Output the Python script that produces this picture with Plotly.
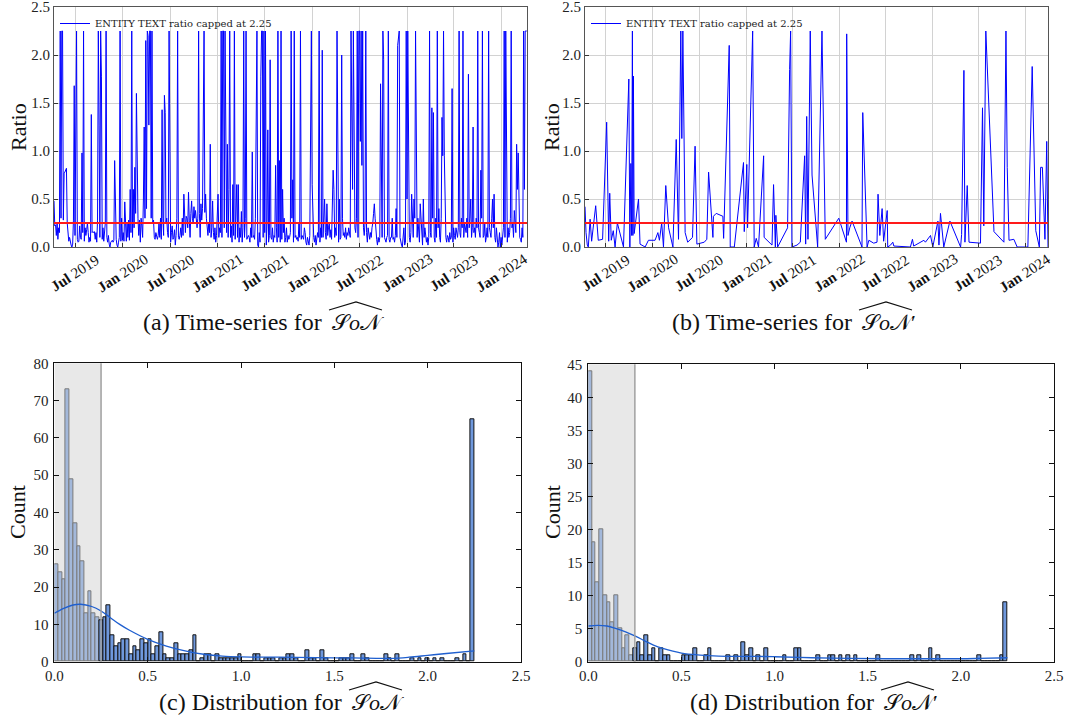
import pandas as pd
import plotly.graph_objects as go

# ---------------- data ----------------
TS_A_START = "2019-04-10"
TS_A_STEP_DAYS = 3
ts_a_values = [
    0.48, 0.22, 0.23, 0.12, 0.25, 0.08, 0.2, 0.15, 2.25, 0.3, 2.25, 2.25, 0.28, 0.77, 0.78, 0.8, 0.82, 0.25, 0.18, 0.06,
    0.1, 0.05, 0.02, 0.0, 0.03, 0.28, 1.68, 0.12, 1.42, 2.25, 0.08, 0.05, 0.06, 0.22, 0.1, 0.08, 0.98, 0.15, 2.25, 0.06,
    0.2, 0.12, 0.18, 0.25, 0.15, 0.05, 0.1, 0.06, 1.38, 0.15, 0.16, 0.15, 0.16, 0.08, 0.15, 0.05, 0.28, 2.25, 1.27, 0.1,
    2.25, 1.78, 0.08, 0.2, 0.06, 0.15, 0.25, 2.25, 0.1, 0.05, 0.12, 0.03, 0.0, 0.05, 0.06, 0.07, 0.05, 0.07, 0.9, 0.2,
    0.08, 0.02, 0.0, 0.05, 0.1, 2.25, 0.06, 0.3, 0.07, 0.15, 0.06, 0.47, 0.12, 0.06, 0.25, 0.1, 0.28, 0.07, 0.6, 0.15,
    2.25, 0.1, 0.6, 0.2, 0.83, 0.35, 1.6, 0.4, 0.3, 0.12, 0.28, 0.05, 0.3, 0.22, 0.1, 0.5, 1.25, 0.3, 2.15, 0.4,
    2.25, 2.2, 1.27, 2.25, 2.25, 0.3, 2.25, 0.25, 0.28, 0.1, 0.08, 0.15, 0.1, 0.08, 0.12, 0.25, 0.1, 0.3, 0.08, 1.43,
    0.3, 0.12, 1.58, 1.4, 0.25, 0.3, 0.15, 0.1, 2.25, 0.2, 0.05, 0.15, 0.22, 0.08, 0.1, 0.18, 0.02, 0.12, 0.3, 2.25,
    0.1, 0.08, 0.12, 0.2, 0.1, 0.3, 0.12, 0.55, 0.2, 0.15, 0.32, 0.3, 0.2, 0.57, 0.28, 0.1, 0.35, 0.48, 0.3, 0.25,
    0.42, 0.3, 0.38, 0.28, 0.2, 0.3, 2.25, 0.35, 0.1, 0.45, 0.28, 0.4, 1.67, 2.25, 0.36, 0.55, 0.3, 0.15, 0.12, 0.25,
    0.15, 1.07, 0.1, 0.2, 0.48, 0.15, 0.08, 0.2, 0.05, 0.12, 0.3, 0.55, 0.1, 0.2, 0.15, 2.25, 0.1, 2.25, 2.25, 0.2,
    2.25, 0.3, 0.15, 1.07, 0.1, 0.6, 2.25, 0.1, 0.22, 0.05, 0.65, 0.12, 2.25, 0.08, 0.3, 0.65, 0.1, 0.65, 0.05, 0.2,
    0.1, 0.37, 0.05, 0.2, 2.25, 0.1, 0.3, 2.25, 0.08, 0.1, 0.12, 0.1, 0.05, 0.2, 0.1, 0.99, 0.1, 0.12, 0.08, 0.3,
    1.25, 2.25, 0.02, 0.0, 0.15, 0.05, 1.78, 2.25, 2.25, 0.1, 2.25, 0.15, 2.25, 0.02, 0.25, 1.22, 0.05, 0.12, 1.95, 0.1,
    0.08, 0.2, 0.05, 0.12, 0.1, 0.85, 0.2, 0.05, 2.25, 0.1, 0.9, 0.05, 2.25, 0.08, 0.6, 0.15, 0.3, 0.05, 0.1, 0.2,
    0.05, 0.12, 0.08, 0.1, 0.15, 2.25, 0.3, 0.7, 0.05, 2.25, 0.1, 0.12, 0.08, 0.1, 0.06, 0.25, 0.1, 2.25, 0.08, 0.12,
    0.1, 0.08, 0.2, 0.15, 0.05, 0.02, 0.1, 0.04, 0.02, 0.12, 0.9, 2.25, 0.65, 0.2, 0.1, 0.05, 0.12, 0.02, 0.08, 0.15,
    0.1, 2.25, 0.05, 0.2, 0.1, 2.05, 0.1, 0.3, 0.5, 0.15, 0.08, 0.45, 0.12, 0.2, 0.25, 0.1, 0.18, 0.08, 0.6, 0.8,
    0.6, 0.1, 0.2, 0.12, 2.25, 0.2, 0.05, 0.5, 0.08, 0.1, 2.0, 0.3, 0.12, 0.15, 0.1, 0.2, 0.08, 0.15, 0.12, 0.2,
    0.15, 0.1, 2.25, 1.15, 0.6, 2.25, 1.1, 0.2, 0.15, 0.3, 2.25, 0.1, 2.25, 2.25, 1.1, 2.25, 0.85, 2.25, 0.2, 0.12,
    0.25, 2.25, 0.15, 0.05, 0.2, 0.1, 0.08, 0.15, 0.1, 0.2, 0.25, 0.35, 0.45, 0.3, 0.12, 0.08, 0.02, 0.1, 0.05, 0.1,
    1.7, 0.3, 0.1, 2.25, 1.95, 0.1, 0.08, 0.05, 0.1, 0.12, 2.25, 0.08, 0.05, 0.1, 0.1, 0.3, 0.08, 0.1, 0.05, 0.12,
    0.4, 0.1, 2.1, 2.2, 2.25, 0.1, 0.05, 0.02, 0.0, 0.1, 0.2, 0.02, 0.05, 2.25, 0.5, 2.25, 0.3, 0.1, 0.05, 0.15,
    0.55, 0.2, 0.1, 0.5, 0.3, 2.25, 0.55, 0.1, 0.3, 0.1, 0.05, 0.45, 0.3, 0.05, 0.02, 0.5, 0.1, 0.2, 0.08, 0.05,
    0.1, 0.02, 0.1, 2.25, 0.15, 0.1, 1.45, 0.3, 1.4, 0.1, 0.05, 0.3, 0.1, 2.25, 0.2, 0.4, 0.1, 0.05, 0.3, 1.35,
    0.95, 2.25, 0.95, 0.2, 0.1, 0.05, 0.12, 0.1, 0.05, 0.15, 0.08, 0.1, 1.65, 0.05, 0.2, 0.12, 0.08, 0.2, 0.15, 0.1,
    0.2, 2.25, 0.15, 0.1, 0.3, 0.2, 2.25, 0.1, 0.25, 0.2, 0.15, 0.3, 0.1, 1.8, 0.2, 0.3, 0.5, 0.1, 0.2, 1.25,
    0.15, 0.2, 0.1, 0.3, 0.2, 2.25, 0.2, 0.15, 0.1, 0.8, 0.3, 2.25, 0.1, 0.12, 0.25, 0.05, 0.1, 0.2, 0.1, 2.25,
    0.2, 0.15, 0.1, 0.3, 0.5, 0.2, 0.55, 0.1, 0.05, 0.2, 0.1, 0.0, 0.05, 0.15, 0.0, 0.1, 0.02, 0.1, 0.2, 2.25,
    0.1, 2.25, 0.3, 0.05, 0.2, 0.1, 0.15, 0.3, 2.25, 0.2, 0.25, 0.1, 0.38, 0.2, 0.15, 1.07, 0.6, 0.98, 0.5, 0.1,
    0.08, 0.05, 0.2, 0.1, 2.25, 0.6, 2.25, 2.25, 2.25,
]

TS_B_START = "2019-04-10"
ts_b_days = [
    0, 4, 9, 13, 20, 26, 42, 52, 69, 85, 93, 97, 103, 111, 118, 127, 151, 172, 176, 180,
    183, 186, 188, 190, 193, 210, 216, 236, 249, 275, 286, 292, 301, 308, 317, 328, 345, 358, 367, 376,
    380, 384, 393, 403, 422, 432, 439, 468, 478, 485, 502, 504, 515, 541, 544, 566, 570, 586, 622, 625,
    635, 638, 658, 664, 672, 681, 701, 703, 734, 740, 747, 749, 756, 795, 803, 807, 812, 832, 845, 862,
    866, 870, 875, 884, 891, 913, 930, 943, 996, 1026, 1027, 1032, 1039, 1048, 1087, 1090, 1107, 1114, 1133, 1146,
    1150, 1157, 1166, 1172, 1186, 1188, 1199, 1208, 1212, 1277, 1285, 1290, 1330, 1336, 1356, 1365, 1385, 1389, 1395, 1408,
    1432, 1474, 1478, 1487, 1491, 1500, 1507, 1552, 1560, 1565, 1573, 1605, 1644, 1652, 1657, 1664, 1683, 1696, 1738, 1755,
    1769, 1783, 1788, 1795, 1805, 1812, 1817,
]
ts_b_values = [
    0.42, 0.15, 0.02, 0.0, 0.29, 0.06, 0.43, 0.07, 0.08, 1.3, 0.06, 0.56, 0.07, 0.17, 0.0, 0.25, 0.0, 1.75, 0.0, 0.87,
    0.12, 2.25, 0.12, 1.78, 0.14, 0.5, 0.03, 0.0, 0.07, 0.07, 0.15, 0.07, 0.25, 0.0, 0.64, 0.2, 0.0, 1.12, 0.08, 2.25,
    1.13, 2.25, 0.15, 0.05, 0.1, 1.05, 0.03, 0.05, 0.08, 0.78, 0.1, 0.32, 0.35, 0.32, 0.09, 2.1, 0.0, 0.0, 0.88, 0.16,
    0.86, 0.2, 2.25, 0.0, 0.09, 0.0, 0.95, 0.1, 0.02, 0.65, 0.0, 0.33, 0.0, 0.2, 1.85, 2.25, 0.0, 0.02, 0.05, 0.95,
    0.03, 1.36, 0.08, 2.25, 0.75, 0.0, 2.25, 0.08, 0.3, 0.05, 2.22, 0.12, 0.2, 0.27, 0.0, 1.4, 0.0, 0.07, 0.04, 0.05,
    0.55, 0.12, 0.4, 0.06, 0.38, 0.0, 0.02, 0.05, 0.01, 0.0, 0.08, 0.01, 0.07, 0.05, 0.12, 0.0, 0.27, 0.02, 0.35, 0.0,
    0.27, 0.0, 0.13, 1.84, 0.05, 0.64, 0.05, 0.04, 1.45, 0.22, 2.25, 0.16, 0.05, 2.25, 0.83, 0.07, 0.08, 0.0, 0.0, 1.88,
    0.17, 0.0, 0.83, 0.83, 0.08, 1.1, 0.0,
]

THRESHOLD = 0.25
CAP = 2.25
HIST_BINS = 112

hist_c_counts = [
    26, 24, 22, 73, 49, 37, 31, 27, 13, 19, 13, 12, 11, 12, 15, 7, 4, 5, 6, 6,
    2, 4, 3, 6, 5, 6, 2, 4, 8, 2, 1, 1, 5, 2, 2, 2, 3, 7, 0, 1,
    2, 2, 0, 2, 1, 1, 1, 1, 1, 2, 0, 0, 0, 2, 2, 0, 1, 1, 1, 0,
    1, 1, 2, 2, 1, 0, 0, 3, 1, 1, 0, 3, 1, 0, 0, 0, 1, 1, 1, 2,
    0, 0, 2, 1, 0, 0, 0, 0, 2, 1, 0, 2, 0, 0, 0, 1, 0, 1, 0, 1,
    0, 1, 0, 1, 0, 0, 0, 1, 0, 2, 0, 65,
]
hist_d_counts = [
    44, 18, 12, 20, 10, 9, 6, 10, 5, 2, 4, 1, 2, 3, 1, 4, 1, 2, 0, 2,
    1, 1, 0, 0, 0, 1, 1, 1, 2, 0, 0, 1, 2, 0, 0, 0, 0, 1, 0, 1,
    0, 3, 1, 2, 0, 1, 0, 2, 0, 0, 0, 0, 1, 0, 0, 2, 2, 0, 0, 0,
    0, 1, 0, 0, 1, 1, 0, 1, 0, 1, 0, 1, 0, 0, 0, 0, 0, 1, 0, 0,
    0, 0, 0, 0, 0, 0, 1, 0, 1, 0, 0, 2, 0, 1, 0, 0, 0, 0, 0, 0,
    0, 0, 0, 0, 1, 0, 0, 0, 0, 0, 1, 9,
]

kde_c_x = [0.0, 0.05, 0.10, 0.14, 0.20, 0.25, 0.30, 0.35, 0.40, 0.50, 0.60, 0.70, 0.80, 0.90, 1.00,
           1.20, 1.40, 1.60, 1.80, 1.90, 2.00, 2.10, 2.25]
kde_c_y = [13.0, 14.3, 15.2, 15.4, 14.8, 13.6, 11.8, 10.0, 8.5, 6.0, 4.2, 2.9, 2.0, 1.5, 1.3,
           1.2, 1.1, 1.0, 0.9, 1.2, 1.7, 2.2, 2.9]
kde_d_x = [0.0, 0.05, 0.10, 0.15, 0.20, 0.25, 0.30, 0.35, 0.40, 0.50, 0.60, 0.70, 0.80, 0.90, 1.00,
           1.20, 1.40, 1.60, 1.80, 2.00, 2.10, 2.25]
kde_d_y = [5.4, 5.5, 5.4, 5.0, 4.5, 3.9, 3.2, 2.5, 2.0, 1.3, 1.0, 0.85, 0.8, 0.8, 0.75,
           0.6, 0.5, 0.45, 0.45, 0.45, 0.5, 0.6]

date_tick_vals = ["2019-07-01", "2020-01-01", "2020-07-01", "2021-01-01", "2021-07-01",
                  "2022-01-01", "2022-07-01", "2023-01-01", "2023-07-01", "2024-01-01"]
date_tick_text = ["Jul 2019", "Jan 2020", "Jul 2020", "Jan 2021", "Jul 2021",
                  "Jan 2022", "Jul 2022", "Jan 2023", "Jul 2023", "Jan 2024"]

LEGEND_LABEL = "ENTITY TEXT ratio capped at 2.25"
captions = ["(a) Time-series for", "(b) Time-series for",
            "(c) Distribution for", "(d) Distribution for"]
primes = ["", "′", "", "′"]

# ---------------- derived ----------------
dates_a = pd.date_range(TS_A_START, periods=len(ts_a_values), freq=f"{TS_A_STEP_DAYS}D")
dates_b = pd.to_datetime(TS_B_START) + pd.to_timedelta(ts_b_days, unit="D")
bin_w = CAP / HIST_BINS
bin_centers = [(i + 0.5) * bin_w for i in range(HIST_BINS)]

W, H = 1067, 725
SERIF = "Liberation Serif"
BLUE = "#0000ff"
BAR = "#6f98dc"
BAR_SHADED = "#a3b8da"
KDE = "#1f5fcf"


def px(x):
    return x / W


def py(y):
    return 1 - y / H


fig = go.Figure()

# time series
fig.add_trace(go.Scatter(x=dates_a, y=ts_a_values, mode="lines", line=dict(color=BLUE, width=1),
                         name=LEGEND_LABEL, xaxis="x", yaxis="y", legend="legend"))
fig.add_trace(go.Scatter(x=dates_b, y=ts_b_values, mode="lines", line=dict(color=BLUE, width=1),
                         name=LEGEND_LABEL, xaxis="x2", yaxis="y2", legend="legend2"))

# histograms
for counts, xa, ya, kx, ky in [(hist_c_counts, "x3", "y3", kde_c_x, kde_c_y),
                               (hist_d_counts, "x4", "y4", kde_d_x, kde_d_y)]:
    shaded = [c < THRESHOLD for c in bin_centers]
    fig.add_trace(go.Bar(
        x=bin_centers, y=counts, width=bin_w, xaxis=xa, yaxis=ya, showlegend=False,
        marker=dict(color=[BAR_SHADED if s else BAR for s in shaded],
                    line=dict(color=["#7a7a7a" if s else "#111111" for s in shaded], width=1)),
    ))
    fig.add_trace(go.Scatter(x=kx, y=ky, mode="lines", line=dict(color=KDE, width=1.3, shape="spline"),
                             xaxis=xa, yaxis=ya, showlegend=False))

# threshold lines in time series
for xa, ya in [("x", "y"), ("x2", "y2")]:
    fig.add_shape(type="line", xref=f"{xa} domain", x0=0, x1=1, yref=ya, y0=THRESHOLD, y1=THRESHOLD,
                  line=dict(color="#ff1a1a", width=2), layer="above")

# shaded span in histograms
for xa, ya in [("x3", "y3"), ("x4", "y4")]:
    fig.add_shape(type="rect", xref=xa, x0=0, x1=THRESHOLD, yref=f"{ya} domain", y0=0, y1=1,
                  fillcolor="#e8e8e8", line=dict(width=0), layer="below")
    fig.add_shape(type="line", xref=xa, x0=THRESHOLD, x1=THRESHOLD, yref=f"{ya} domain", y0=0, y1=1,
                  line=dict(color="#a0a0a0", width=1.5), layer="above")

tickfont = dict(family=SERIF, size=15, color="#222")
ts_x_common = dict(type="date", tickvals=date_tick_vals, showticklabels=False, ticks="inside", ticklen=4,
                   tickcolor="#333", showgrid=True, gridcolor="#d2d2d2", gridwidth=1, showline=True,
                   linecolor="#555", linewidth=1, mirror=True, zeroline=False, automargin=False)
ts_y_common = dict(range=[0, 2.5], dtick=0.5, tickformat=".1f", ticks="inside", ticklen=4, tickcolor="#333",
                   showgrid=True, gridcolor="#d2d2d2", gridwidth=1, showline=True, linecolor="#555",
                   linewidth=1, mirror=True, zeroline=False, tickfont=tickfont, automargin=False,
                   ticklabeloverflow="allow")
h_x_common = dict(range=[0, 2.5], dtick=0.5, tickformat=".1f", ticks="inside", ticklen=5, tickcolor="#111",
                  showgrid=False, showline=True, linecolor="#111", linewidth=1, mirror="ticks",
                  zeroline=False, tickfont=tickfont, automargin=False, ticklabeloverflow="allow")
h_y_common = dict(ticks="inside", ticklen=5, tickcolor="#111", showgrid=False, showline=True,
                  linecolor="#111", linewidth=1, mirror="ticks", zeroline=False, tickfont=tickfont,
                  automargin=False, ticklabeloverflow="allow", ticklabelstandoff=2)

fig.update_layout(
    template="none",
    width=W, height=H, margin=dict(l=0, r=0, t=0, b=0, autoexpand=False),
    paper_bgcolor="white", plot_bgcolor="white", bargap=0,
    font=dict(family=SERIF, color="#111"),
    xaxis=dict(domain=[px(54), px(527)], anchor="y", range=[dates_a[0], "2024-04-08"], **ts_x_common),
    yaxis=dict(domain=[py(247), py(7)], anchor="x", **ts_y_common),
    xaxis2=dict(domain=[px(585), px(1048)], anchor="y2", range=[dates_b[0], dates_b[-1]], **ts_x_common),
    yaxis2=dict(domain=[py(247), py(7)], anchor="x2", **ts_y_common),
    xaxis3=dict(domain=[px(54.4), px(521)], anchor="y3", **h_x_common),
    yaxis3=dict(domain=[py(661.7), py(363.3)], anchor="x3", range=[0, 80], dtick=10, **h_y_common),
    xaxis4=dict(domain=[px(588.3), px(1054)], anchor="y4", **h_x_common),
    yaxis4=dict(domain=[py(661.7), py(364.3)], anchor="x4", range=[0, 45], dtick=5, **h_y_common),
    legend=dict(x=px(55), y=py(9), xanchor="left", yanchor="top", bgcolor="rgba(0,0,0,0)",
                font=dict(family="DejaVu Serif", size=10, color="#222")),
    legend2=dict(x=px(586), y=py(9), xanchor="left", yanchor="top", bgcolor="rgba(0,0,0,0)",
                 font=dict(family="DejaVu Serif", size=10, color="#222")),
)

# rotated date tick labels, centred under their ticks
for xa in ["x", "x2"]:
    for v, t in zip(date_tick_vals, date_tick_text):
        mon, yr = t.split()
        fig.add_annotation(x=v, xref=xa, y=py(273), yref="paper", text=f"<b>{mon}</b> {yr}",
                           textangle=-33, showarrow=False, xanchor="center", yanchor="middle",
                           font=dict(family=SERIF, size=15, color="#111"))

# axis titles
for x, y, t in [(18, 127, "Ratio"), (551, 127, "Ratio"), (18, 512, "Count"), (553, 512, "Count")]:
    fig.add_annotation(x=px(x), y=py(y), xref="paper", yref="paper", text=t, textangle=-90,
                       xanchor="center", yanchor="middle",
                       showarrow=False, font=dict(family=SERIF, size=22, color="#111"))

# captions: text part ends where the hatted symbol starts
MATH_W = 52
cap_pos = [(330, 322), (860, 322), (350, 702), (882, 702)]
for (mx, cy), c, pr in zip(cap_pos, captions, primes):
    fig.add_annotation(x=px(mx - 6), y=py(cy), xref="paper", yref="paper", text=c,
                       xanchor="right", yanchor="middle", showarrow=False,
                       font=dict(family=SERIF, size=24, color="#111"))
    fig.add_annotation(x=px(mx), y=py(cy), xref="paper", yref="paper", text="𝒮<i>o</i>𝒩" + pr,
                       xanchor="left", yanchor="middle", showarrow=False,
                       font=dict(family=SERIF, size=22, color="#111"))
    # wide hat over the symbol
    x0, x1, xm = mx - 1, mx + MATH_W, mx + MATH_W / 2
    yb, yt = cy - 12, cy - 20
    fig.add_shape(type="path", xref="paper", yref="paper",
                  path=f"M {px(x0)},{py(yb)} L {px(xm)},{py(yt)} L {px(x1)},{py(yb)}",
                  line=dict(color="#111", width=1.2))

fig.write_html("out.html", config={"displayModeBar": False},
               post_script="document.body.style.margin='0px';")
